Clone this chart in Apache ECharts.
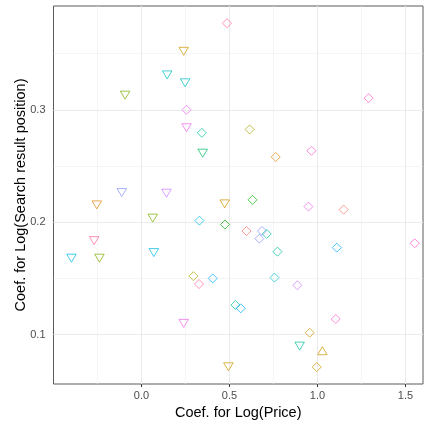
<!DOCTYPE html>
<html>
<head>
<meta charset="utf-8">
<script src="https://cdn.jsdelivr.net/npm/echarts@6/dist/echarts.min.js"></script>
<style>html,body{margin:0;padding:0;background:#fff;}#c{width:424px;height:424px;}</style>
</head>
<body>
<div id="c"></div>
<script>
// ---- data ----
const priceCoef = [0.486,0.240,0.146,0.248,-0.093,0.256,0.256,0.343,0.348,-0.112,0.142,-0.254,0.473,0.064,0.329,0.475,-0.269,-0.398,-0.239,0.070,0.295,0.327,0.405,0.534,0.564,0.240,0.494,1.291,0.615,0.763,0.966,0.631,0.949,1.149,0.597,0.685,0.712,0.670,0.773,1.110,1.553,0.756,0.886,1.104,0.956,0.899,1.028,0.996];
const positionCoef = [0.377,0.352,0.331,0.324,0.313,0.300,0.284,0.2795,0.2614,0.2264,0.2258,0.2154,0.2163,0.2036,0.2014,0.198,0.1836,0.168,0.168,0.173,0.152,0.145,0.150,0.1264,0.1234,0.110,0.0714,0.3104,0.2825,0.258,0.2635,0.2199,0.2139,0.2112,0.1922,0.1922,0.1896,0.1854,0.1738,0.1774,0.1813,0.1507,0.1439,0.1139,0.1017,0.0898,0.0857,0.0711];
const shapeType = ['diamond','down','down','down','down','diamond','down','diamond','down','down','down','down','down','down','diamond','diamond','down','down','down','down','diamond','diamond','diamond','diamond','diamond','down','down','diamond','diamond','diamond','diamond','diamond','diamond','diamond','diamond','diamond','diamond','diamond','diamond','diamond','diamond','diamond','diamond','diamond','diamond','down','up','diamond'];
const groupId = [15,2,8,8,4,13,13,7,6,11,12,1,2,4,9,5,15,9,4,9,3,15,10,7,10,13,2,14,3,1,14,5,13,0,0,11,7,11,7,10,14,8,12,14,2,7,2,2];
const xTicks = [0, 0.5, 1.0, 1.5];
const xMinorGrid = [-0.25, 0.25, 0.75, 1.25];
const yTicks = [0.1, 0.2, 0.3];
const yMinorGrid = [0.15, 0.25, 0.35];
const xTitle = 'Coef. for Log(Price)';
const yTitle = 'Coef. for Log(Search result position)';

// ---- styles ----
const palette = ['#F8766D','#E68613','#CD9600','#ABA300','#7CAE00','#0CB702','#00BE67','#00C19A','#00BFC4','#00B8E7','#00A9FF','#8494FF','#C77CFF','#ED68ED','#FF61CC','#FF68A1'];
const symbolFor = {diamond:{symbol:'diamond',size:[9,9],rot:0}, down:{symbol:'triangle',size:[9.5,8],rot:180}, up:{symbol:'triangle',size:[9.5,8],rot:0}};
const FONT = 'Liberation Sans, Arial, sans-serif';

const points = priceCoef.map((x, i) => {
  const s = symbolFor[shapeType[i]];
  return {
    value: [x, positionCoef[i]],
    symbol: s.symbol, symbolSize: s.size, symbolRotate: s.rot,
    itemStyle: {color: 'rgba(0,0,0,0)', borderColor: palette[groupId[i]], borderWidth: 0.9}
  };
});

const gridLine = (arr, key, w, c) => arr.map(v => ({[key]: v, lineStyle: {width: w, color: c, type: 'solid'}}));

const chart = echarts.init(document.getElementById('c'), null, {renderer: 'canvas'});
chart.setOption({
  animation: false,
  backgroundColor: '#fff',
  textStyle: {fontFamily: FONT},
  grid: {left: 53.5, right: 1, top: 6, bottom: 40, containLabel: false, outerBoundsMode: 'none',
    show: true, borderColor: '#5a5a5a', borderWidth: 1, backgroundColor: 'transparent', z: 3},
  xAxis: {
    type: 'value', min: -0.5, max: 1.6,
    splitLine: {show: false}, axisLine: {show: false},
    axisTick: {show: true, length: 3, customValues: xTicks, lineStyle: {color: '#333'}},
    axisLabel: {customValues: xTicks, color: '#4D4D4D', fontSize: 11, margin: 6, fontFamily: FONT,
      formatter: v => v.toFixed(1)},
    name: xTitle, nameLocation: 'middle', nameGap: 21.5, nameMoveOverlap: false,
    nameTextStyle: {color: '#000', fontSize: 14.5, fontFamily: FONT}
  },
  yAxis: {
    type: 'value', min: 0.0561, max: 0.3923,
    splitLine: {show: false}, axisLine: {show: false},
    axisTick: {show: true, length: 3, customValues: yTicks, lineStyle: {color: '#333'}},
    axisLabel: {customValues: yTicks, color: '#4D4D4D', fontSize: 11, margin: 8, fontFamily: FONT,
      formatter: v => v.toFixed(1)},
    name: yTitle, nameLocation: 'middle', nameGap: 25, nameMoveOverlap: false,
    nameTextStyle: {color: '#000', fontSize: 14.5, fontFamily: FONT}
  },
  series: [
    {
      type: 'scatter', data: [], z: 1, silent: true,
      markLine: {
        silent: true, symbol: ['none','none'], label: {show: false}, animation: false,
        data: [].concat(
          gridLine(xMinorGrid, 'xAxis', 0.6, '#EFEFEF'),
          gridLine(yMinorGrid, 'yAxis', 0.6, '#EFEFEF'),
          gridLine(xTicks, 'xAxis', 1.1, '#EBEBEB'),
          gridLine(yTicks, 'yAxis', 1.1, '#EBEBEB')
        )
      }
    },
    {
      type: 'scatter', z: 5, data: points
    }
  ]
});
</script>
</body>
</html>
